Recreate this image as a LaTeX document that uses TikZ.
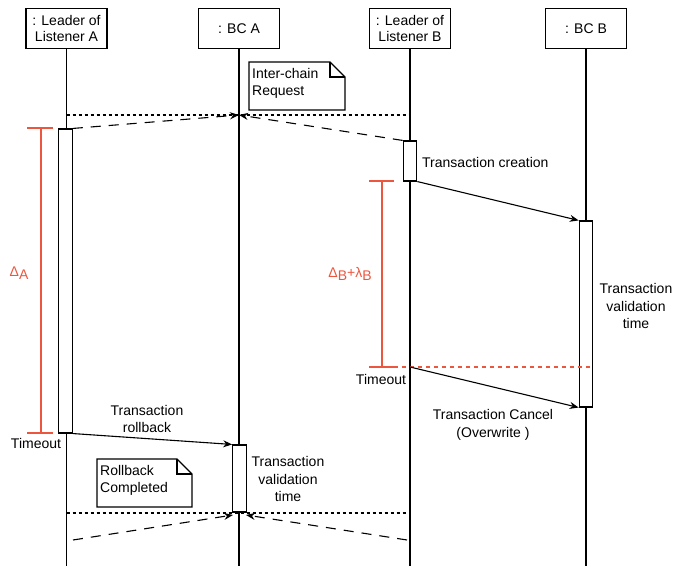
\documentclass[tikz,border=0pt]{standalone}
\usepackage{fontspec}
\setmainfont{Liberation Sans}
\usetikzlibrary{arrows.meta}
\definecolor{tred}{RGB}{236,86,62}
\begin{document}
\begin{tikzpicture}[x=1pt,y=-1pt,
  every node/.style={font=\fontsize{14}{17.5}\selectfont},
  head/.style={draw,line width=1.1pt,minimum width=81pt,minimum height=40pt,align=center,inner sep=1pt},
  act/.style={draw,line width=1.1pt,fill=white,minimum width=13.5pt,inner sep=0pt},
  life/.style={line width=1.1pt},
  msg/.style={line width=1.1pt,-{Stealth[length=9pt,width=7pt]}},
  dsh/.style={line width=1.1pt,dash pattern=on 10pt off 8pt,-{Stealth[length=9pt,width=7pt]}},
  dot/.style={line width=1.1pt,dash pattern=on 3pt off 3pt},
  bracket/.style={tred,line width=1.1pt},
  lbl/.style={align=center,inner sep=0pt},
  note/.style={line width=1.1pt}
]
\useasboundingbox (0,0) rectangle (673,569);

% participants
\node[head] (hA) at (66.5,28.5) {: Leader of\\[-2pt]Listener A};
\node[head] (hBCA) at (239,28.5) {: BC A};
\node[head] (hB) at (410,28.5) {: Leader of\\[-2pt]Listener B};
\node[head] (hBCB) at (586,28.5) {: BC B};

% lifeline ends
\coordinate (eA) at (66.5,566);
\coordinate (eBCA) at (239,566);
\coordinate (eB) at (410,566);
\coordinate (eBCB) at (586,566);
\draw[life] (hA.south) -- (eA);
\draw[life] (hBCA.south) -- (eBCA);
\draw[life] (hB.south) -- (eB);
\draw[life] (hBCB.south) -- (eBCB);

% activations
\node[act,minimum height=304pt] (aA) at (65.5,281) {};
\node[act,minimum height=40pt] (aB) at (410,161) {};
\node[act,minimum height=186pt] (aBCB) at (586,314) {};
\node[act,minimum height=67pt] (aBCA) at (239.5,478.5) {};

% sync points
\coordinate (sA) at (66.5,115);
\coordinate (sBCA) at (239,115);
\coordinate (sB) at (410,115);
\coordinate (rA) at (66.5,513);
\coordinate (rB) at (407,513);
\coordinate (rBCAl) at (233,515);
\coordinate (rBCAr) at (246,515);
\coordinate (qA) at (73,540);
\coordinate (qB) at (407,540);
\coordinate (tB) at (410,367);
\coordinate (rl) at (394,367);
\coordinate (rr) at (593,367);

% request phase
\draw[dot] (sA) -- (sB);
\draw[dsh] (aA.north east) -- (sBCA);
\draw[dsh] (aB.north west) -- (sBCA);
\draw[msg] (aB.south east) -- (aBCB.north west);
\draw[tred,line width=1.1pt,dash pattern=on 4pt off 4pt] (rl) -- (rr);
\draw[msg] (tB) -- (aBCB.south west);
\draw[msg] (aA.south east) -- (aBCA.north west);

% rollback completion
\draw[dot] (rA) -- (rB);
\draw[dsh] (qA) -- (rBCAl);
\draw[dsh] (qB) -- (rBCAr);

% timeout brackets
\draw[bracket] (27,128) -- (53,128) (41,128) -- (41,433) (27,433) -- (53,433);
\draw[bracket] (369,181) -- (394,181) (382,181) -- (382,367) (369,367) -- (394,367);
\node[lbl,tred] (dA) at (19,273) {Δ\raisebox{-0.35ex}{A}};
\node[lbl,tred] (dB) at (350,274) {Δ\raisebox{-0.35ex}{B}+λ\raisebox{-0.35ex}{B}};

% notes
\draw[note] (249,62) -- (330,62) -- (345,77) -- (345,110) -- (249,110) -- cycle;
\draw[note] (330,62) -- (330,77) -- (345,77);
\node[lbl,align=left,anchor=north west] (n1) at (252,68) {Inter-chain\\Request};
\draw[note] (97,459) -- (177,459) -- (192,474) -- (192,507) -- (97,507) -- cycle;
\draw[note] (177,459) -- (177,474) -- (192,474);
\node[lbl,align=left,anchor=north west] (n2) at (100,465) {Rollback\\Completed};

% labels
\node[lbl,anchor=west] (l1) at (422,162) {Transaction creation};
\node[lbl] (l2) at (636,306) {Transaction\\validation\\time};
\node[lbl] (l3) at (381,379) {Timeout};
\node[lbl] (l4) at (493,425) {Transaction Cancel\\(Overwrite )};
\node[lbl] (l5) at (36,443) {Timeout};
\node[lbl] (l6) at (147,419) {Transaction\\rollback};
\node[lbl] (l7) at (288,479) {Transaction\\validation\\time};
\end{tikzpicture}
\end{document}
